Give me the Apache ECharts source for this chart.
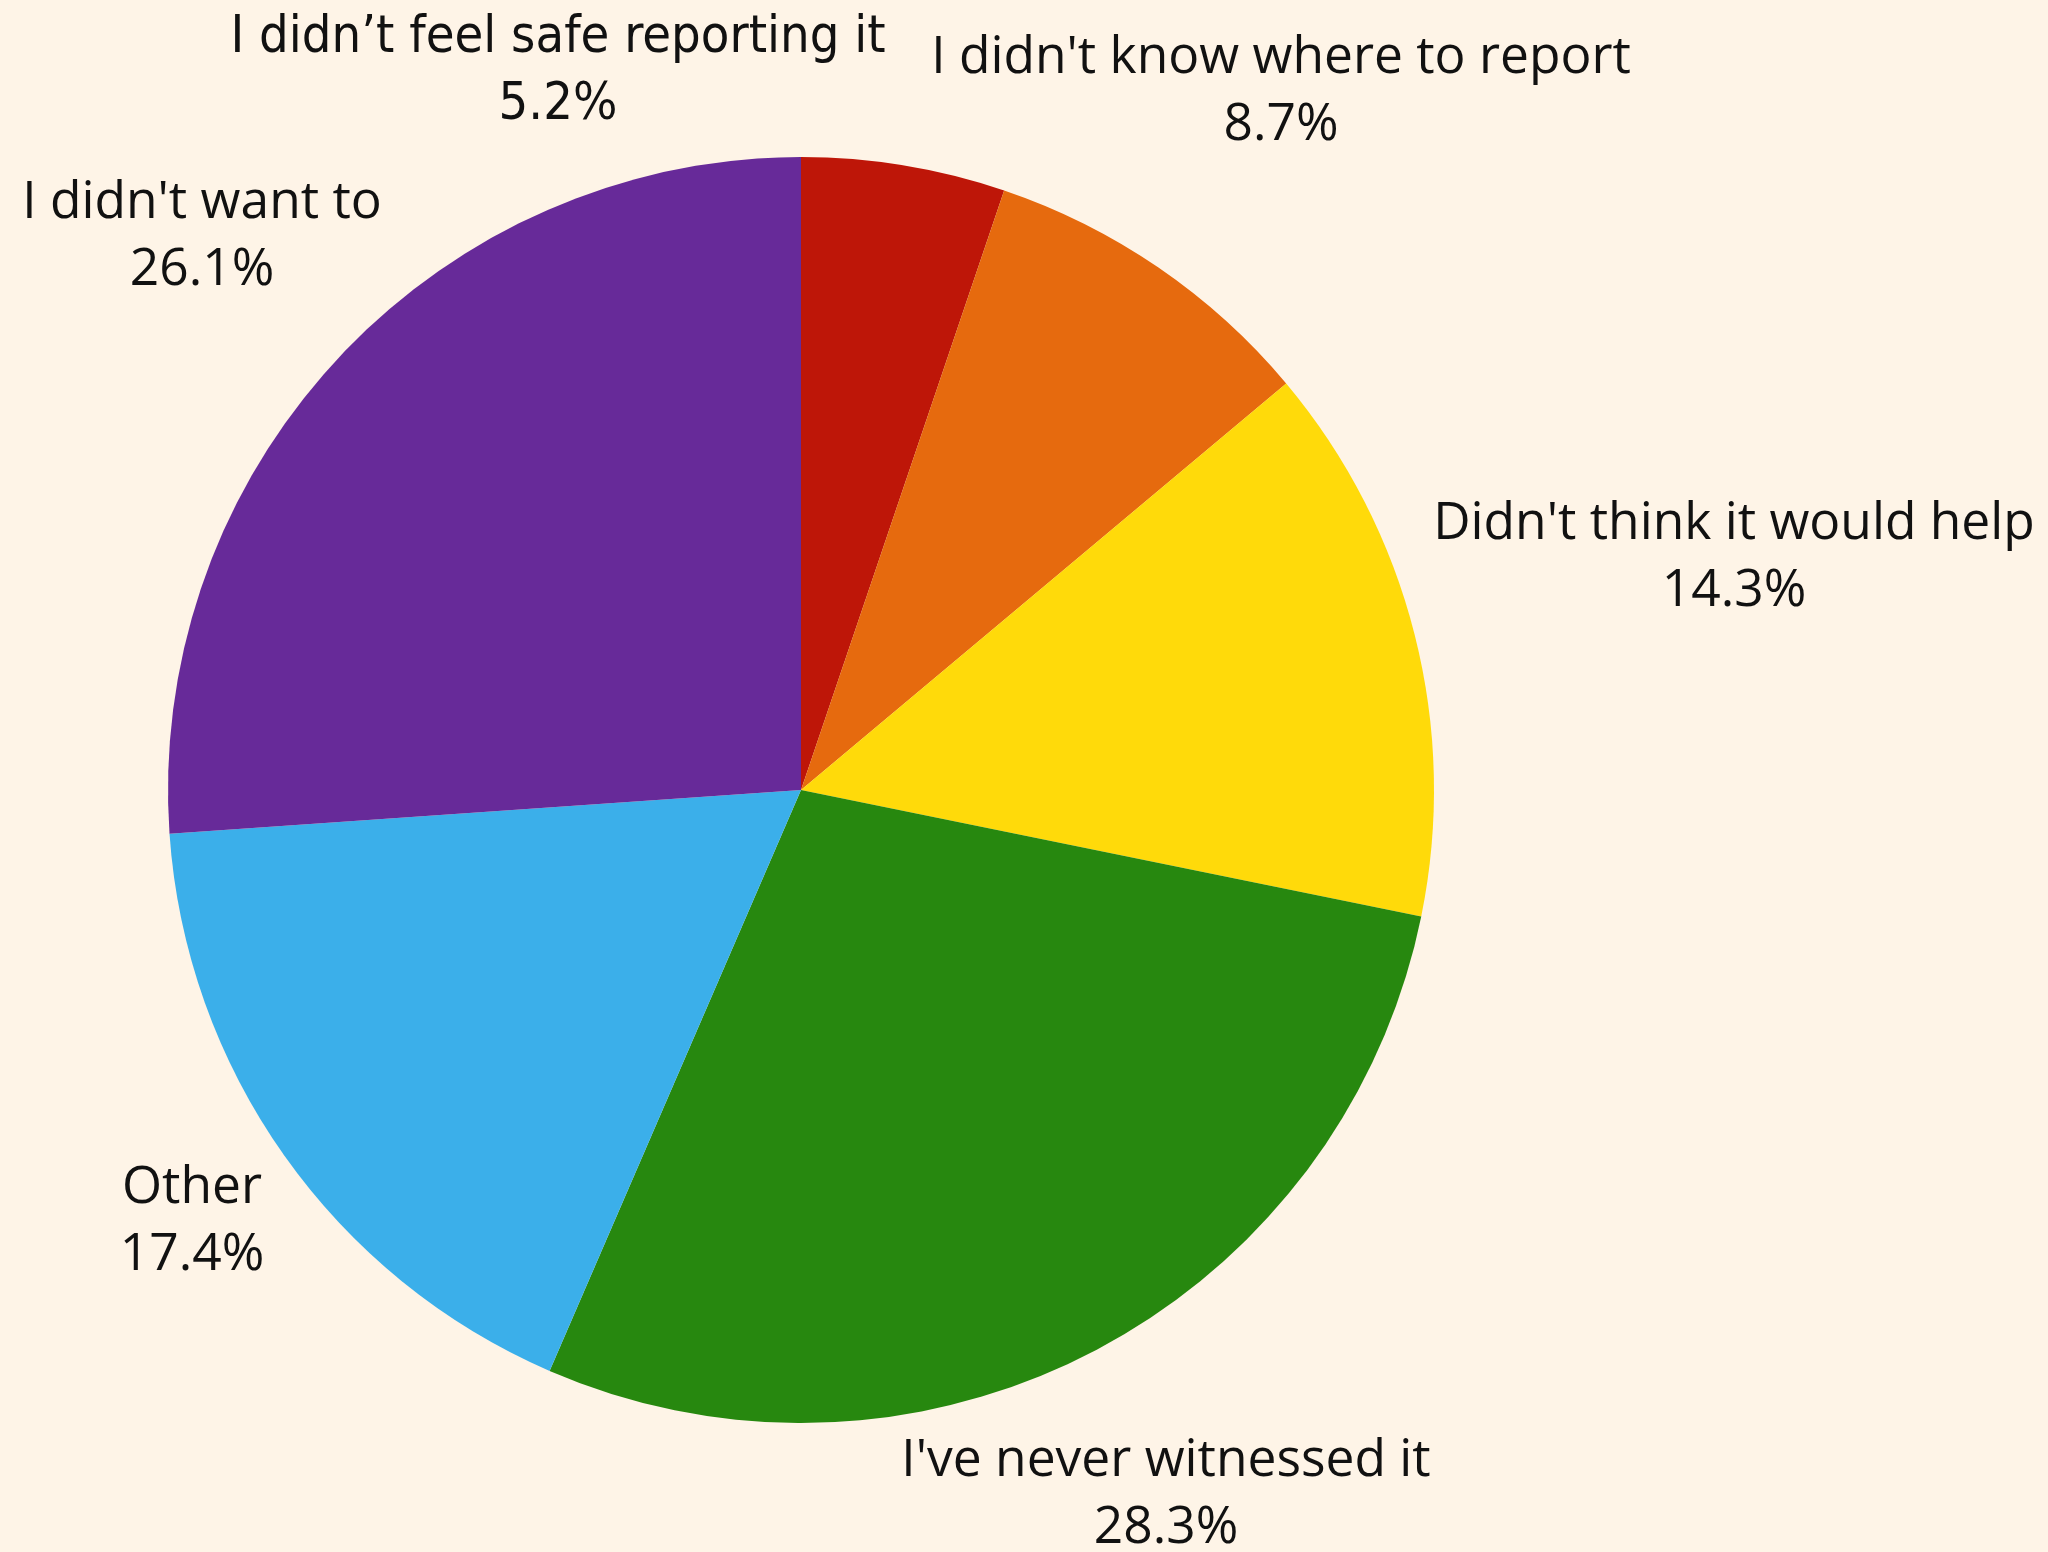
<!DOCTYPE html>
<html>
<head>
<meta charset="utf-8">
<style>
  html, body { margin: 0; padding: 0; background: #FEF4E7; }
  #chart { width: 2048px; height: 1552px; }
</style>
<script src="https://cdn.jsdelivr.net/npm/echarts@6/dist/echarts.min.js"></script>
</head>
<body>
<div id="chart"></div>
<script>
// Reasons for not reporting, in clockwise order from 12 o'clock
const categories = [
  "I didn\u2019t feel safe reporting it",
  "I didn't know where to report",
  "Didn't think it would help",
  "I've never witnessed it",
  "Other",
  "I didn't want to"
];
const shares = [5.2, 8.7, 14.3, 28.3, 17.4, 26.1];
const sliceColors = ["#BE1608", "#E66A0E", "#FFDA0A", "#27880F", "#3BAFEA", "#672A99"];

// Label block centres, in pixels
const labelSpots = [
  [558, 72], [1281, 92], [1734, 558], [1166, 1495], [192, 1222], [202, 237]
];
const labelFonts = [
  "'Liberation Sans Narrow', 'DejaVu Sans Condensed', sans-serif",
  "'Open Sans', sans-serif", "'Open Sans', sans-serif", "'Open Sans', sans-serif",
  "'Open Sans', sans-serif", "'Open Sans', sans-serif"
];
const labelSizes = [52, 51.5, 51.5, 51.5, 51.5, 51.5];

const chart = echarts.init(document.getElementById('chart'));
chart.setOption({
  backgroundColor: '#FEF4E7',
  animation: false,
  series: [{
    type: 'pie',
    center: [801, 790],
    radius: 633,
    startAngle: 90,
    clockwise: true,
    avoidLabelOverlap: false,
    labelLine: { show: false },
    label: {
      show: true,
      position: 'outside',
      formatter: '{b}\n{c}%',
      color: '#111111',
      lineHeight: 67,
      align: 'center'
    },
    labelLayout: function (p) {
      const s = labelSpots[p.dataIndex];
      return { x: s[0], y: s[1], align: 'center', verticalAlign: 'middle' };
    },
    data: categories.map((name, i) => ({
      name: name,
      value: shares[i],
      itemStyle: { color: sliceColors[i] },
      label: { fontFamily: labelFonts[i], fontSize: labelSizes[i] }
    }))
  }]
});
</script>
</body>
</html>
